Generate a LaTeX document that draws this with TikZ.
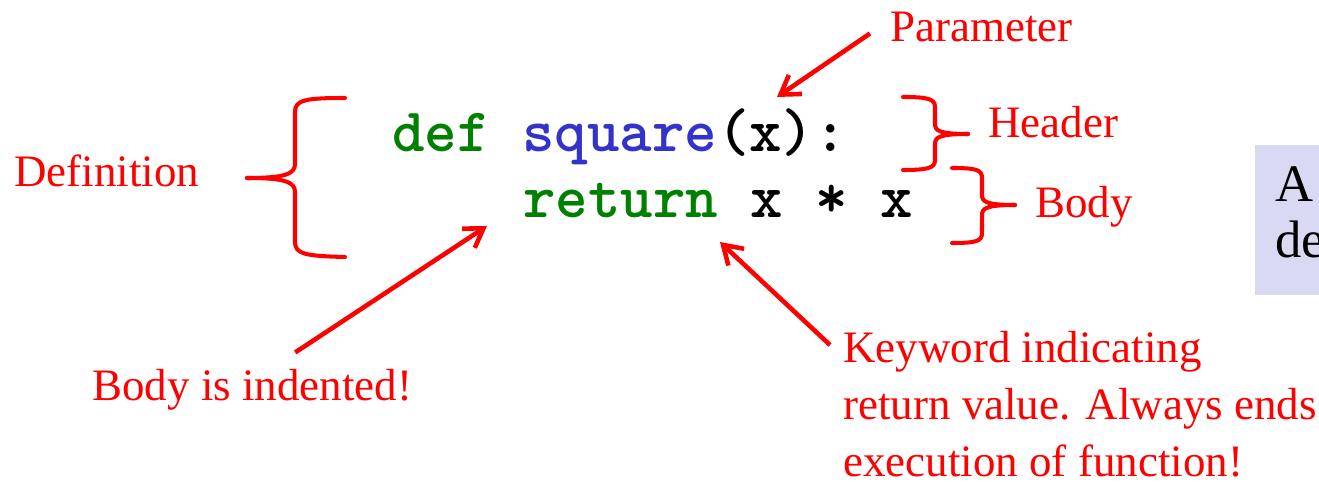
\documentclass[tikz,border=0pt]{standalone}
\usepackage{fontspec}
\setmainfont{Liberation Serif}
\usetikzlibrary{arrows.meta}
\definecolor{kwgreen}{RGB}{0,128,0}
\definecolor{fnblue}{RGB}{51,51,204}
\definecolor{notefill}{RGB}{217,217,243}
\begin{document}
\begin{tikzpicture}[x=0.02cm,y=-0.02cm,
 lbl/.style={text=red,font=\fontsize{25.6}{32.4}\selectfont,inner sep=0pt},
 code/.style={font=\fontsize{35.2}{40}\selectfont\ttfamily\bfseries,inner sep=0pt},
 note/.style={fill=notefill,minimum height=3cm,minimum width=2.5cm,inner sep=0pt},
 notetext/.style={align=left,inner sep=0pt,font=\fontsize{30}{32}\selectfont},
 arr/.style={red,line width=2.6pt,-{Straight Barb[length=3.6mm,width=4.6mm]}},
 brc/.style={red,line width=2.3pt,line cap=round,line join=round}]
\useasboundingbox (0,0) rectangle (1319,482);
% code lines
\node[code,anchor=base west] (hdr) at (392,152) {\textcolor{kwgreen}{def} \textcolor{fnblue}{square}(x):};
\node[code,anchor=base west] (ret) at (523,218) {\textcolor{kwgreen}{return} x * x};
% labels
\node[lbl,anchor=base west] (defn) at (14,187) {Definition};
\node[lbl,anchor=base west] (param) at (890,42) {Parameter};
\node[lbl,anchor=base west] (head) at (988,138) {Header};
\node[lbl,anchor=base west] (body) at (1035,218) {Body};
\node[lbl,anchor=base west] (indent) at (92,401) {Body is indented!};
\node[lbl,anchor=north west,align=left] (kw) at (843,331) {Keyword indicating\\return value. Always ends\\execution of function!};
\node[note,anchor=north west] (intro) at (1255,145) {};
\node[notetext,anchor=north west] (introtxt) at ([shift={(20,21)}]intro.north west) {A\\de};
% arrow tips
\coordinate (argtip) at (777,97);
\coordinate (indtip) at (487,226);
\coordinate (rettip) at (720,242);
\draw[arr] ([shift={(-20,6)}]param.west) -- (argtip);
\draw[arr] ([shift={(43,-17)}]indent.north) -- (indtip);
\draw[arr] ([shift={(-13,14)}]kw.north west) -- (rettip);
% braces
\draw[brc] (345,98) .. controls (305,98) and (295,100) .. (295,112) -- (295,164) .. controls (295,174) and (285,178) .. (247,178);
\draw[brc] (345,257) .. controls (305,256) and (295,254) .. (295,242) -- (295,192) .. controls (295,182) and (285,178) .. (247,178);
\draw[brc] (903,97) .. controls (928,97) and (935,99) .. (935,107) -- (935,124) .. controls (935,131) and (940,134) .. (968,134);
\draw[brc] (903,170) .. controls (928,170) and (935,168) .. (935,160) -- (935,144) .. controls (935,137) and (940,134) .. (968,134);
\draw[brc] (952,168) .. controls (977,168) and (982,170) .. (982,178) -- (982,195) .. controls (982,202) and (987,205) .. (1015,205);
\draw[brc] (952,243) .. controls (977,243) and (982,241) .. (982,233) -- (982,215) .. controls (982,208) and (987,205) .. (1015,205);
\end{tikzpicture}
\end{document}
